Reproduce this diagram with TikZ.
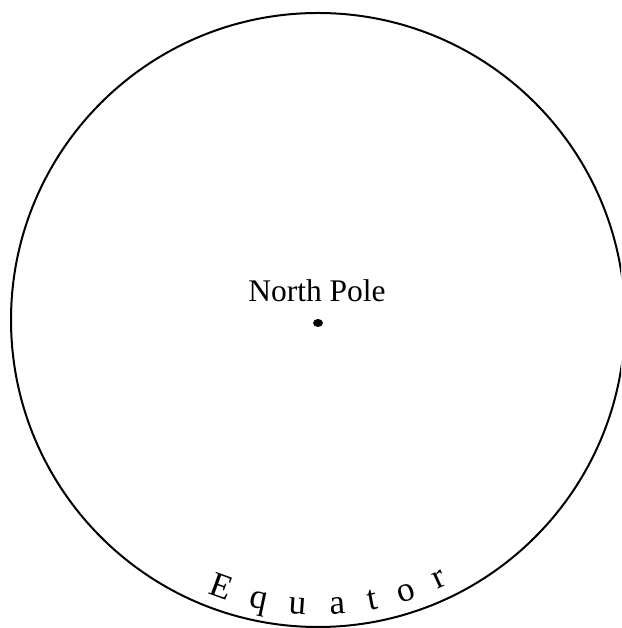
\documentclass[tikz,border=0pt]{standalone}
\usepackage{fontspec}
\setmainfont{Liberation Serif}
\usetikzlibrary{calc}
\begin{document}
\begin{tikzpicture}[x=1pt,y=1pt,
  globe/.style={line width=2pt},
  eqletter/.style={anchor=base,inner sep=0pt,font=\fontsize{35}{35}\selectfont},
  poletext/.style={anchor=base,inner sep=0pt,font=\fontsize{31.5}{31.5}\selectfont}]
\useasboundingbox (0,0) rectangle (621,628);
\clip (0,0) rectangle (621,628);
\coordinate (c) at (318,308);
\draw[globe] (c) circle[radius=307];
\node[poletext] (np) at (317,326) {North Pole};
\fill (318,305) ellipse[x radius=5,y radius=4];
\foreach \ch/\ang [count=\i] in {E/-20,q/-12,u/-4,a/4,t/11,o/18,r/25}{
  \node[eqletter,rotate=\ang] (eq\i) at ($(c)+({295*sin(\ang)},{-295*cos(\ang)})$) {\ch};
}
\end{tikzpicture}
\end{document}
